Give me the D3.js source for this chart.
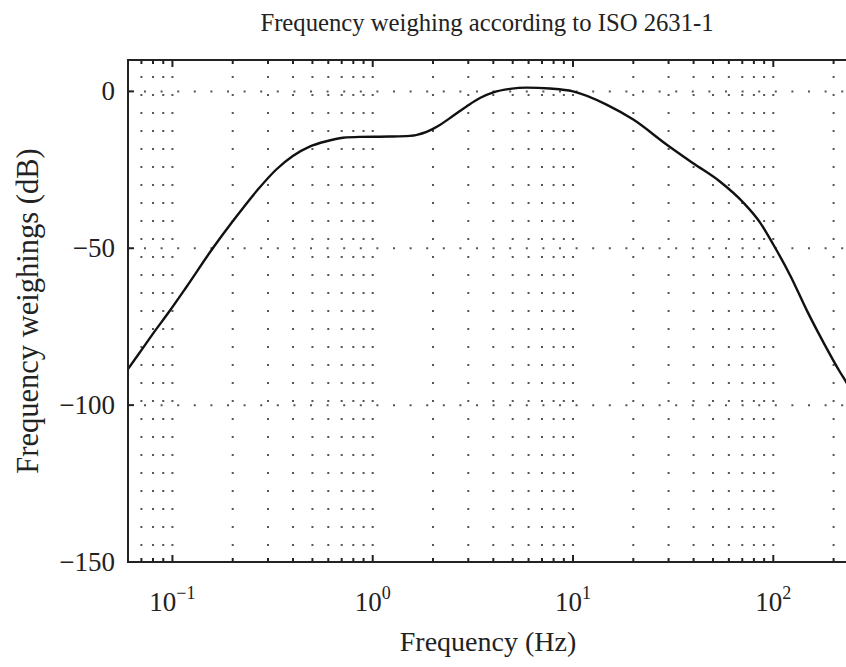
<!DOCTYPE html>
<html>
<head>
<meta charset="utf-8">
<style>
  body { margin: 0; background: #fff; }
  svg { display: block; font-family: 'Liberation Serif', 'DejaVu Serif', serif; }
  .grid line { stroke: #555; stroke-width: 2; }
  .frame { fill: none; stroke: #222; stroke-width: 2; }
  .tick line { stroke: #222; stroke-width: 2; }
  text { fill: #222; }
</style>
</head>
<body>
<svg width="846" height="667"></svg>
<script src="https://d3js.org/d3.v7.min.js"></script>
<script>
// curve: frequency (Hz) and weighting (dB)
const freqs = [0.0595, 0.0684, 0.080, 0.0966, 0.117, 0.159, 0.200, 0.267, 0.330, 0.399,
  0.484, 0.587, 0.710, 0.861, 1.216, 1.53, 1.856, 2.163, 2.52, 2.94, 3.43, 4.0, 4.84,
  5.87, 7.67, 10.0, 14.7, 20.0, 29.4, 40.0, 54.3, 71.0, 86.1, 100, 122, 147, 179, 216,
  232, 250];
const weights = [-88.8, -83.4, -77.2, -70.1, -62.5, -50.0, -41.4, -31.3, -24.9, -20.6,
  -17.6, -15.9, -14.8, -14.5, -14.4, -14.2, -12.9, -10.7, -7.8, -4.8, -2.1, -0.3, 0.8,
  1.2, 0.9, 0.0, -4.2, -9.0, -17.0, -23.0, -28.8, -35.5, -41.9, -48.8, -58.9, -69.8, -80.3,
  -89.6, -92.8, -96.3];

const xMajor = [0.1, 1, 10, 100];
const xMajorExp = ["\u22121", "0", "1", "2"];
const yTicks = [-150, -100, -50, 0];
const yTickLabels = ["\u2212150", "\u2212100", "\u221250", "0"];

const titleText = "Frequency weighing according to ISO 2631-1";
const xLabel = "Frequency (Hz)";
const yLabel = "Frequency weighings (dB)";

const pL = 128, pT = 60, pR = 853, pB = 562;

const svg = d3.select("svg");

let x = d3.scaleLog().domain([0.06, 250]).range([pL, pR]);
let y = d3.scaleLinear().domain([-150, 10]).range([pB, pT]);

// all log ticks (1..9 per decade) inside the domain
let minor = x.ticks().filter(d => d >= 0.06 && d <= 250);
let isMajor = d => xMajor.some(m => Math.abs(m - d) < 1e-9);

// dotted grid
let grid = svg.append("g").attr("class", "grid");
grid.selectAll("line.v")
  .data(minor)
  .join("line")
  .attr("class", "v")
  .attr("x1", d => x(d)).attr("x2", d => x(d))
  .attr("y1", pT).attr("y2", pB)
  .attr("stroke-dasharray", "2,16")
  .attr("stroke-dashoffset", 2);

grid.selectAll("line.h")
  .data(yTicks.slice(1))
  .join("line")
  .attr("class", "h")
  .attr("x1", pL).attr("x2", pR)
  .attr("y1", d => y(d)).attr("y2", d => y(d))
  .attr("stroke-dasharray", "2,14.6")
  .attr("stroke-dashoffset", -16);

// curve
svg.append("defs").append("clipPath").attr("id", "plot")
  .append("rect").attr("x", pL).attr("y", pT)
  .attr("width", pR - pL).attr("height", pB - pT);

let line = d3.line()
  .x((d, i) => x(freqs[i]))
  .y(d => y(d))
  .curve(d3.curveMonotoneX);

svg.append("path")
  .datum(weights)
  .attr("clip-path", "url(#plot)")
  .attr("d", line)
  .attr("fill", "none")
  .attr("stroke", "#111")
  .attr("stroke-width", 2.4);

// ticks
let ticks = svg.append("g").attr("class", "tick");
ticks.selectAll("line.xb")
  .data(minor)
  .join("line")
  .attr("class", "xb")
  .attr("x1", d => x(d)).attr("x2", d => x(d))
  .attr("y1", pB).attr("y2", d => pB - (isMajor(d) ? 7 : 4));
ticks.selectAll("line.xt")
  .data(minor)
  .join("line")
  .attr("class", "xt")
  .attr("x1", d => x(d)).attr("x2", d => x(d))
  .attr("y1", pT).attr("y2", d => pT + (isMajor(d) ? 7 : 4));
ticks.selectAll("line.yl")
  .data(yTicks)
  .join("line")
  .attr("class", "yl")
  .attr("x1", pL).attr("x2", pL + 6)
  .attr("y1", d => y(d)).attr("y2", d => y(d));

svg.append("rect").attr("class", "frame")
  .attr("x", pL).attr("y", pT)
  .attr("width", pR - pL).attr("height", pB - pT);

// tick labels
svg.append("g").selectAll("text")
  .data(yTicks)
  .join("text")
  .attr("x", pL - 13)
  .attr("y", d => y(d) + 9)
  .attr("text-anchor", "end")
  .attr("font-size", 27)
  .text((d, i) => yTickLabels[i]);

let xl = svg.append("g").selectAll("text")
  .data(xMajor)
  .join("text")
  .attr("x", d => x(d))
  .attr("y", 611)
  .attr("text-anchor", "middle")
  .attr("font-size", 27);
xl.append("tspan").text("10");
xl.append("tspan").attr("dy", -12).attr("font-size", 18).text((d, i) => xMajorExp[i]);

// titles
svg.append("text")
  .attr("x", 487).attr("y", 31)
  .attr("text-anchor", "middle")
  .attr("font-size", 24.7)
  .text(titleText);

svg.append("text")
  .attr("x", 488).attr("y", 651)
  .attr("text-anchor", "middle")
  .attr("font-size", 28)
  .text(xLabel);

svg.append("text")
  .attr("transform", "translate(38," + ((pT + pB) / 2) + ") rotate(-90)")
  .attr("text-anchor", "middle")
  .attr("font-size", 30.5)
  .text(yLabel);
</script>
</body>
</html>
